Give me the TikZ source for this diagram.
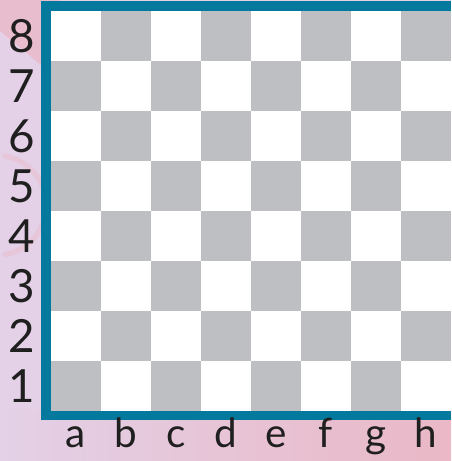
\documentclass[tikz,border=0pt]{standalone}
\usepackage{fontspec}
\newfontfamily\boardfont{Lato}
\usetikzlibrary{positioning}
\definecolor{boardteal}{RGB}{3,122,157}
\definecolor{boardgray}{RGB}{190,191,195}
\definecolor{backlilac}{RGB}{228,209,231}
\definecolor{backpink}{RGB}{236,178,190}

\begin{document}
\begin{tikzpicture}[line cap=round,line join=round,
  rankfile/.style={font=\boardfont\fontsize{26}{30}\selectfont,text=black!88,inner sep=0pt},
  filelabel/.style={rankfile,font=\boardfont\fontsize{23}{27}\selectfont}]
 \useasboundingbox (0,0) rectangle (9.02,9.22);
 % background
 \fill[backlilac] (0,0) rectangle (9.02,9.22);
 \fill[backpink,opacity=.6] (0,9.22) -- (1.2,9.22) -- (1.2,7.6) -- (0,8.6) -- cycle;
 \shade[left color=backlilac,right color=backpink,opacity=.8] (0,0) rectangle (9.02,1.0);
 \draw[backpink,line width=3pt,opacity=.35] (0.1,6.1) arc[start angle=80,end angle=-80,radius=1.0];
 % frame
 \fill[boardteal] (0.82,0.82) rectangle (9.02,9.2);
 % squares
 \foreach \i in {0,...,7}
  \foreach \j in {0,...,7}{
   \pgfmathtruncatemacro{\sqodd}{mod(\i+\j,2)}
   \ifnum\sqodd=0
    \fill[boardgray] (1.02+\i,1+\j) rectangle ++(1,1);
   \else
    \fill[white] (1.02+\i,1+\j) rectangle ++(1,1);
   \fi
  }
 % labels
 \foreach \r in {1,...,8}
  \node[rankfile] (rank\r) at (0.44,\r+0.5) {\r};
 \foreach \f [count=\k from 0] in {a,b,c,d,e,f,g,h}
  \node[filelabel,anchor=base] (file\f) at (1.52+\k,0.26) {\f};
\end{tikzpicture}
\end{document}
